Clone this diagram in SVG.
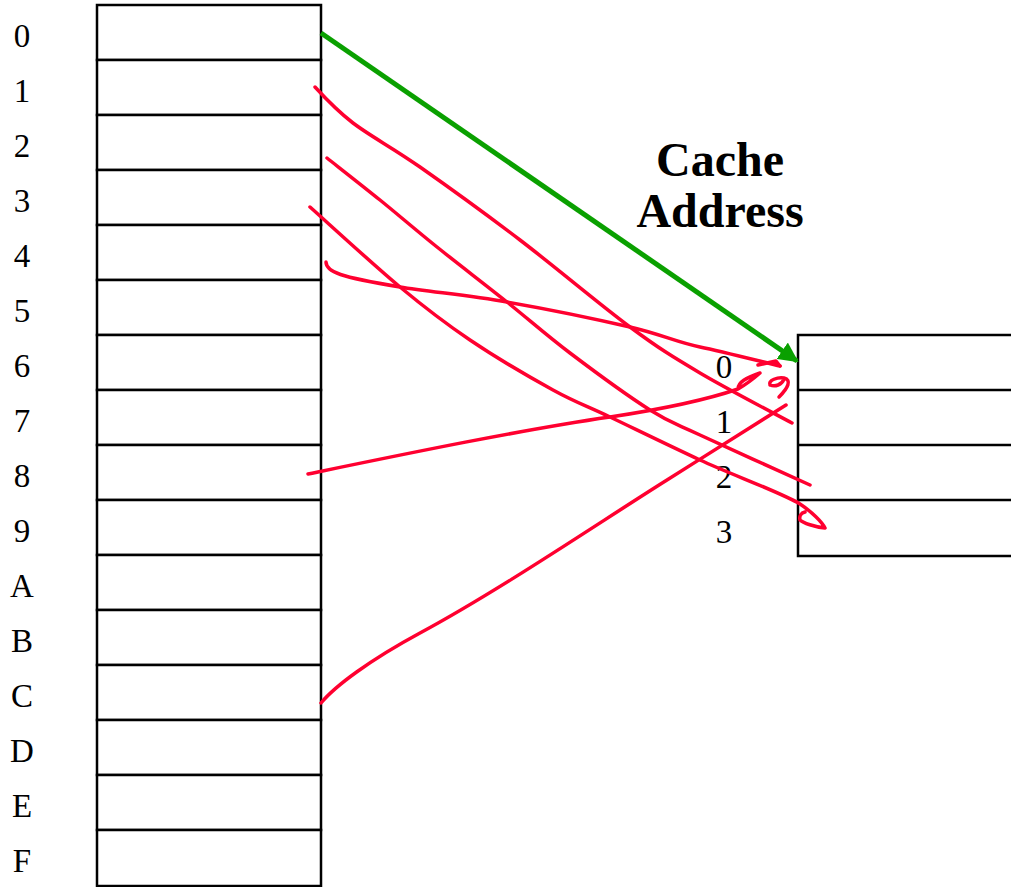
<svg xmlns="http://www.w3.org/2000/svg" width="1011" height="887" viewBox="0 0 1011 887">
  <style>
    .cell { fill: #fff; stroke: #000; stroke-width: 2.5; }
    .lbl { font-family: "Liberation Serif", serif; font-size: 33px; text-anchor: middle; fill: #000; }
    .title { font-family: "Liberation Serif", serif; font-size: 48px; font-weight: bold; text-anchor: middle; fill: #000; }
    .ink { fill: none; stroke: #ff0030; stroke-width: 3.5; stroke-linecap: round; stroke-linejoin: round; }
  </style>
  <defs>
    <marker id="greenHead" viewBox="0 0 10 10" refX="9" refY="5" markerWidth="4" markerHeight="4" orient="auto" markerUnits="strokeWidth">
      <path d="M0,0 L10,5 L0,10 z" fill="#0aa000"/>
    </marker>
  </defs>

  <rect width="1011" height="887" fill="#fff"/>

  <!-- main memory: 16 blocks -->
  <g id="memory">
    <rect class="cell" x="97" y="5" width="224" height="55"/>
    <rect class="cell" x="97" y="60" width="224" height="55"/>
    <rect class="cell" x="97" y="115" width="224" height="55"/>
    <rect class="cell" x="97" y="170" width="224" height="55"/>
    <rect class="cell" x="97" y="225" width="224" height="55"/>
    <rect class="cell" x="97" y="280" width="224" height="55"/>
    <rect class="cell" x="97" y="335" width="224" height="55"/>
    <rect class="cell" x="97" y="390" width="224" height="55"/>
    <rect class="cell" x="97" y="445" width="224" height="55"/>
    <rect class="cell" x="97" y="500" width="224" height="55"/>
    <rect class="cell" x="97" y="555" width="224" height="55"/>
    <rect class="cell" x="97" y="610" width="224" height="55"/>
    <rect class="cell" x="97" y="665" width="224" height="55"/>
    <rect class="cell" x="97" y="720" width="224" height="55"/>
    <rect class="cell" x="97" y="775" width="224" height="55"/>
    <rect class="cell" x="97" y="830" width="224" height="56"/>
  </g>

  <g id="memory-labels">
    <text class="lbl" x="22" y="47">0</text>
    <text class="lbl" x="22" y="102">1</text>
    <text class="lbl" x="22" y="157">2</text>
    <text class="lbl" x="22" y="212">3</text>
    <text class="lbl" x="22" y="267">4</text>
    <text class="lbl" x="22" y="322">5</text>
    <text class="lbl" x="22" y="377">6</text>
    <text class="lbl" x="22" y="432">7</text>
    <text class="lbl" x="22" y="487">8</text>
    <text class="lbl" x="22" y="542">9</text>
    <text class="lbl" x="22" y="597">A</text>
    <text class="lbl" x="22" y="652">B</text>
    <text class="lbl" x="22" y="707">C</text>
    <text class="lbl" x="22" y="762">D</text>
    <text class="lbl" x="22" y="817">E</text>
    <text class="lbl" x="22" y="872">F</text>
  </g>

  <!-- cache: 4 lines, open to the right edge -->
  <g id="cache">
    <path d="M1014,335 H798 V556 H1014" fill="#fff" stroke="#000" stroke-width="2.5"/>
    <line x1="798" y1="390" x2="1014" y2="390" stroke="#000" stroke-width="2.5"/>
    <line x1="798" y1="445" x2="1014" y2="445" stroke="#000" stroke-width="2.5"/>
    <line x1="798" y1="500" x2="1014" y2="500" stroke="#000" stroke-width="2.5"/>
  </g>

  <g id="cache-labels">
    <text class="lbl" x="724" y="378">0</text>
    <text class="lbl" x="724" y="433">1</text>
    <text class="lbl" x="724" y="488">2</text>
    <text class="lbl" x="724" y="543">3</text>
  </g>

  <g id="title">
    <text class="title" x="720" y="176">Cache</text>
    <text class="title" x="720" y="227">Address</text>
  </g>

  <g id="connectors">
    <!-- address mapping arrow -->
    <line x1="321" y1="33" x2="797" y2="361" stroke="#0aa000" stroke-width="5" marker-end="url(#greenHead)"/>

    <!-- hand-drawn mappings: block n goes to cache line n mod 4 -->
    <!-- block 1 -> line 1 -->
    <path class="ink" d="M315,87 C326,99 340,113 353,123 C370.5,136.3 392.2,147.5 420,167 C447.8,186.5 485,213.3 520,240 C555,266.7 600,304.8 630,327 C660,349.2 673,357 700,373 C727,389 776.7,414.7 792,423"/>
    <!-- block 2 -> line 2 -->
    <path class="ink" d="M327,158 C335.8,165 361.7,185.2 380,200 C398.3,214.8 415.8,230 437,247 C458.2,264 484.8,284.3 507,302 C529.2,319.7 546.2,335 570,353 C593.8,371 628.3,396.3 650,410 C671.7,423.7 673.7,422.7 700,435 C726.3,447.3 790,475.8 810,485"/>
    <!-- block 3 -> line 3, ending in a loop -->
    <path class="ink" d="M310,207 C325,220.3 373.3,264.8 400,287 C426.7,309.2 444.5,322.8 470,340 C495.5,357.2 529.7,377.2 553,390 C576.3,402.8 585.5,405.3 610,417 C634.5,428.7 668.3,445.2 700,460 C731.7,474.8 780,492 800,504 C812,512 822,522 825,528 C815,527 803,523 800,520 C799,516 801,513 805,512"/>
    <!-- block 4 -> line 0 -->
    <path class="ink" d="M326,262 C326,272 340,277 400,287 C428.5,291.7 468.7,295.3 507,302 C545.3,308.7 597.8,319.5 630,327 C662.2,334.5 675,341.8 700,347 C725,352.2 766.7,363 780,366"/>
    <path class="ink" d="M758,365 L776,361 L780,366"/>
    <!-- block 8 -> line 0 -->
    <path class="ink" d="M308,474 C400,455 520,430 610,417 C650,411 700,402 738,389 C738,382 746,378 760,373 C752,380 745,385 738,389"/>
    <path class="ink" d="M770,385 C768,380 778,377 784,378 C792,380 788,388 779,397 M770,385 C775,387 782,385 784,379"/>
    <!-- block C -> line 0 -->
    <path class="ink" d="M321,703 C335,686 370,660 420,633 C500,590 600,522 667,480 C710,453 760,421 786,405"/>
  </g>
</svg>
